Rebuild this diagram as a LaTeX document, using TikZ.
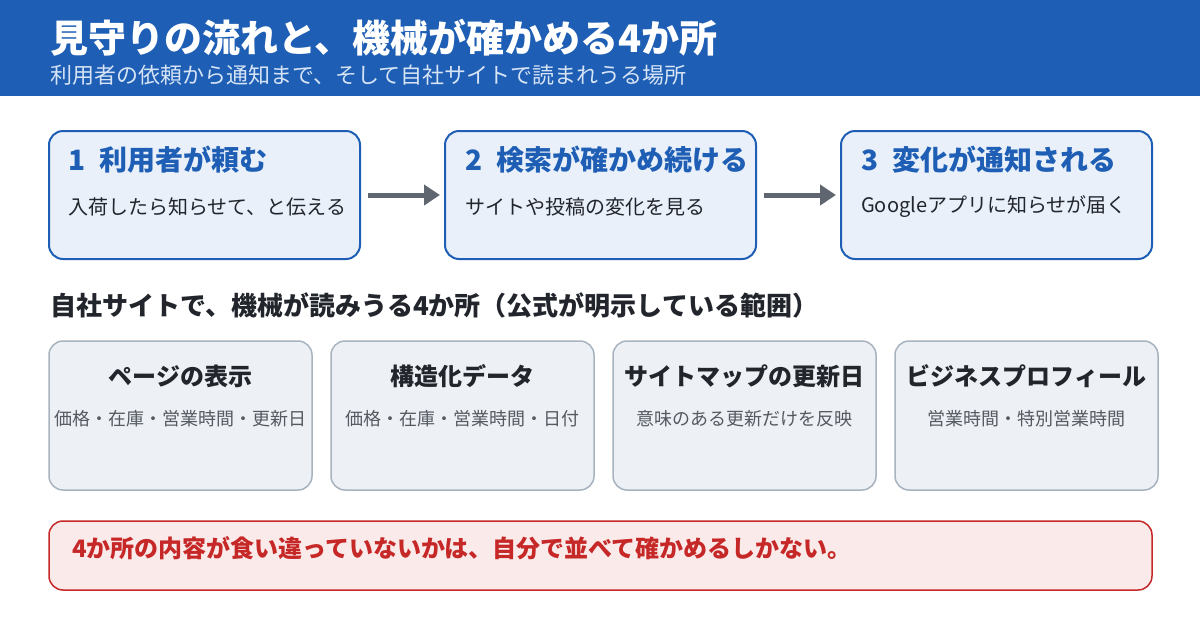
\documentclass[tikz,border=0pt]{standalone}
\usepackage{fontspec}
\setmainfont{Noto Sans CJK JP}
\usetikzlibrary{arrows.meta}
\definecolor{headblue}{RGB}{30,94,180}
\definecolor{headsub}{RGB}{214,228,246}
\definecolor{stepfill}{RGB}{233,240,250}
\definecolor{arrowgray}{RGB}{95,102,112}
\definecolor{inkdark}{RGB}{34,38,44}
\definecolor{inkgray}{RGB}{85,90,98}
\definecolor{srcline}{RGB}{168,179,192}
\definecolor{srcfill}{RGB}{237,240,244}
\definecolor{warnred}{RGB}{198,40,40}
\definecolor{warnfill}{RGB}{251,234,234}

\begin{document}
\begin{tikzpicture}[x=1pt, y=-1pt,
    stepbox/.style={draw=headblue, fill=stepfill, line width=2pt, rounded corners=14pt, minimum width=311pt, minimum height=128pt},
    steptitle/.style={anchor=west, inner sep=0pt, text=headblue, font=\fontsize{28}{32}\selectfont\bfseries},
    stepnote/.style={anchor=west, inner sep=0pt, text=inkdark, font=\fontsize{20}{24}\selectfont},
    srcbox/.style={draw=srcline, fill=srcfill, line width=1.5pt, rounded corners=14pt, minimum width=263pt, minimum height=149pt},
    srctitle/.style={inner sep=0pt, text=inkdark, font=\fontsize{24}{28}\selectfont\bfseries},
    srcnote/.style={inner sep=0pt, text=inkgray, font=\fontsize{18}{22}\selectfont},
    flow/.style={draw=arrowgray, line width=5pt, -{Triangle[length=16pt,width=20pt]}, shorten <=7pt, shorten >=4pt}]
    \useasboundingbox (0,0) rectangle (1200,630);
    \fill[white] (0,0) rectangle (1200,630);

    % header band
    \fill[headblue] (0,0) rectangle (1200,96);
    \node[anchor=west, inner sep=0pt, text=white, font=\fontsize{38}{42}\selectfont\bfseries] (title) at (50,38) {見守りの流れと、機械が確かめる4か所};
    \node[anchor=west, inner sep=0pt, text=headsub, font=\fontsize{22}{26}\selectfont] (subtitle) at (50,75) {利用者の依頼から通知まで、そして自社サイトで読まれうる場所};

    % three steps
    \node[stepbox] (s1) at (204.5,195) {};
    \node[stepbox] (s2) at (600.5,195) {};
    \node[stepbox] (s3) at (996.5,195) {};
    \node[steptitle] (s1t) at (68,160) {1\hspace{0.5em}利用者が頼む};
    \node[steptitle] (s2t) at (465,160) {2\hspace{0.5em}検索が確かめ続ける};
    \node[steptitle] (s3t) at (861,160) {3\hspace{0.5em}変化が通知される};
    \node[stepnote] (s1n) at (68,207) {入荷したら知らせて、と伝える};
    \node[stepnote] (s2n) at (465,207) {サイトや投稿の変化を見る};
    \node[stepnote] (s3n) at (861,207) {Googleアプリに知らせが届く};

    \draw[flow] (s1) -- (s2);
    \draw[flow] (s2) -- (s3);

    % four places
    \node[anchor=west, inner sep=0pt, text=inkdark, font=\fontsize{26}{30}\selectfont\bfseries] (heading) at (50,305) {自社サイトで、機械が読みうる4か所（公式が明示している範囲）};

    \node[srcbox] (p1) at (180.5,415.5) {};
    \node[srcbox] (p2) at (462.5,415.5) {};
    \node[srcbox] (p3) at (744.5,415.5) {};
    \node[srcbox] (p4) at (1026.5,415.5) {};
    \node[srctitle] (p1t) at (180.5,376) {ページの表示};
    \node[srctitle] (p2t) at (462.5,376) {構造化データ};
    \node[srctitle] (p3t) at (744.5,376) {サイトマップの更新日};
    \node[srctitle] (p4t) at (1026.5,376) {ビジネスプロフィール};
    \node[srcnote] (p1n) at (180.5,419) {価格・在庫・営業時間・更新日};
    \node[srcnote] (p2n) at (462.5,419) {価格・在庫・営業時間・日付};
    \node[srcnote] (p3n) at (744.5,419) {意味のある更新だけを反映};
    \node[srcnote] (p4n) at (1026.5,419) {営業時間・特別営業時間};

    % warning
    \node[draw=warnred, fill=warnfill, line width=1.5pt, rounded corners=14pt, minimum width=1103pt, minimum height=69pt] (warn) at (600.5,555.5) {};
    \node[anchor=west, inner sep=0pt, text=warnred, font=\fontsize{24}{28}\selectfont\bfseries] (warnt) at (72,548) {4か所の内容が食い違っていないかは、自分で並べて確かめるしかない。};
\end{tikzpicture}
\end{document}
